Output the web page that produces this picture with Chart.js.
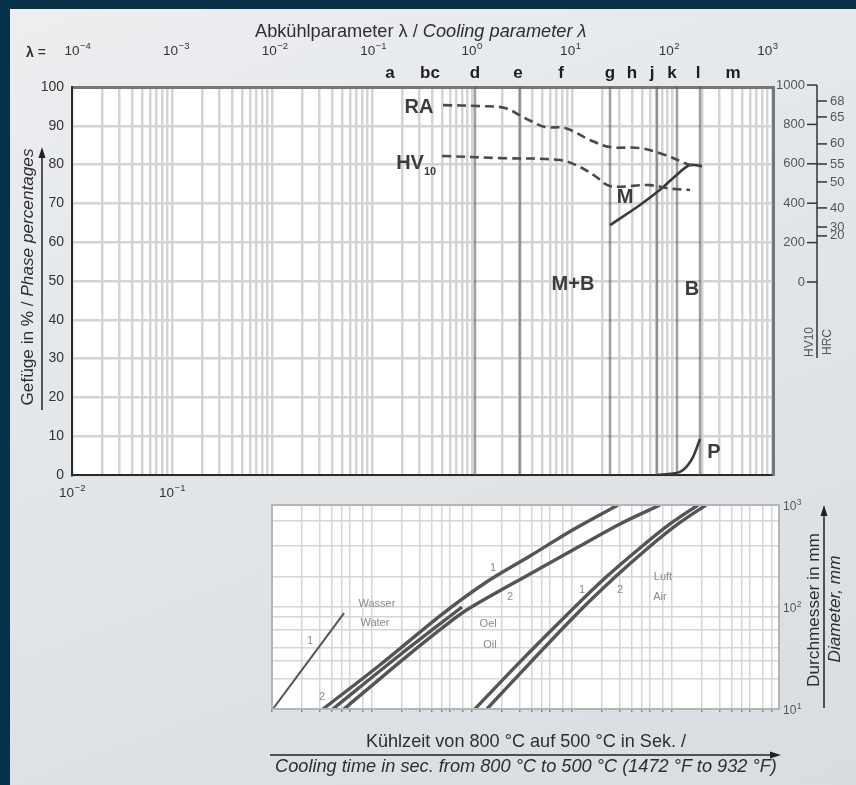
<!DOCTYPE html>
<html lang="de">
<head>
<meta charset="utf-8">
<title>Abkühlparameter</title>
<script src="https://cdn.jsdelivr.net/npm/chart.js@4.4.1/dist/chart.umd.min.js"></script>
<style>
  html,body{margin:0;padding:0}
  body{width:856px;height:785px;position:relative;overflow:hidden;background:#05314a;font-family:"Liberation Sans",Arial,Helvetica,sans-serif;color:#2e2e2e}
  #panel{position:absolute;left:10px;top:9px;width:846px;height:776px;background:linear-gradient(160deg,#eceef0 0%,#e3e6e9 45%,#d8dde1 100%)}
  canvas{position:absolute}
  .txt{position:absolute;white-space:nowrap;line-height:20px}
  .rot{position:absolute;white-space:nowrap;line-height:20px;transform:translate(-50%,-50%) rotate(-90deg)}
  svg{position:absolute;left:0;top:0}
</style>
</head>
<body>
<div id="panel"></div>
<canvas id="main" width="856" height="500" style="left:0;top:0"></canvas>
<canvas id="cool" width="594" height="230" style="left:262px;top:496px"></canvas>

<div class="txt" style="left:255px;top:21px;font-size:18.2px">Abkühlparameter λ / <i>Cooling parameter λ</i></div>
<div class="txt" style="left:26px;top:42px;font-size:14px"><b style="font-weight:600">λ</b> =</div>
<div class="rot" style="left:27px;top:277px;font-size:17.2px">Gefüge in % / <i>Phase percentages</i></div>
<div class="rot" style="left:809px;top:342px;font-size:12px;color:#555">HV10</div>
<div class="rot" style="left:827px;top:342px;font-size:12px;color:#555">HRC</div>
<div class="rot" style="left:813px;top:610px;font-size:17.2px">Durchmesser in mm</div>
<div class="rot" style="left:834px;top:609px;font-size:17.2px"><i>Diameter, mm</i></div>
<div class="txt" style="left:270px;top:731px;width:512px;text-align:center;font-size:18.1px">Kühlzeit von 800 °C auf 500 °C in Sek. /</div>
<div class="txt" style="left:270px;top:756px;width:512px;text-align:center;font-size:18.2px"><i>Cooling time in sec. from 800 °C to 500 °C (1472 °F to 932 °F)</i></div>

<svg width="856" height="785">
  <g stroke="#222" stroke-width="1.5" fill="#222">
    <line x1="42" y1="410" x2="42" y2="156"/><polygon points="42,147 38.5,158 45.5,158" stroke="none"/>
    <line x1="824" y1="708" x2="824" y2="514"/><polygon points="824,505 820.5,516 827.5,516" stroke="none"/>
    <line x1="270" y1="755" x2="772" y2="755"/><polygon points="781,755 770,751.5 770,758.5" stroke="none"/>
  </g>
</svg>

<script>
Chart.defaults.font.family = '"Liberation Sans", Arial, Helvetica, sans-serif';
Chart.defaults.color = '#333';

// ---- axes ----
const timeMin = 0.01, timeMax = 102300;       // cooling time in s, upper panel
const lambdaMin = 8.8e-5, lambdaMax = 1140;   // cooling parameter λ
const coolTimeMin = 1, coolTimeMax = 117500;  // lower panel, same px per decade
const timeLabelValues = [0.01, 0.1];
const timeLabelExps = ['−2', '−1'];
const lambdaValues = [1e-4, 1e-3, 1e-2, 1e-1, 1, 10, 100, 1000];
const lambdaExps = ['−4', '−3', '−2', '−1', '0', '1', '2', '3'];
const curveLetters = ['a', 'bc', 'd', 'e', 'f', 'g', 'h', 'j', 'k', 'l', 'm'];
const curveLetterTimes = [15.1, 38, 107, 288, 776, 2399, 3981, 6310, 10000, 18197, 40738];
const diaLabelValues = [10, 100, 1000];
const diaLabelExps = ['1', '2', '3'];
const diaGridValues = [20, 30, 40, 60, 80, 100, 200, 400, 700];

// darker vertical cooling lines (s)
const coolLineTimes = [107, 302, 2399, 7079, 11220, 19055];

// ---- hardness ruler (HV10 left, HRC right) ----
const hvTicks = [0, 200, 400, 600, 800, 1000];
const hrcLabels = ['68', '65', '60', '55', '50', '40', '30', '20'];
const hrcAtHV = [919, 838, 701, 599, 508, 376, 279, 234];

// ---- upper panel curves ----
const raTime = [51.3, 120, 214, 339, 537, 851, 1514, 2399, 4786, 8511, 15136, 19055];
const raHV   = [898, 893, 883, 832, 787, 782, 721, 685, 680, 645, 594, 589];
const hvTime = [50.1, 190.5, 759, 1202, 1698, 2399, 6026, 9550, 15136];
const hvVal  = [640, 629, 619, 584, 538, 487, 492, 474, 467];
const mTime  = [2399, 4786, 7586, 12023, 15136, 19953];
const mPct   = [64.4, 69.6, 73.5, 78.1, 79.9, 79.6];
const pTime  = [7079, 9550, 12023, 14125, 16218, 19055];
const pPct   = [0, 0.3, 0.8, 2.3, 4.6, 9.3];

const phaseLabels = ['RA', 'HV', 'M', 'M+B', 'B', 'P'];
const phaseSubs   = ['', '10', '', '', '', ''];
const phaseTimes  = [29.5, 24, 3388, 1023, 15849, 26303];
const phasePct    = [94.6, 80.2, 71.6, 49.0, 47.7, 5.7];

// ---- lower panel: diameter vs cooling time ----
const wasser1Time = [1.02, 5.25];
const wasser1Dia  = [10, 87];
const wasser2Time = [4.07, 19.1, 79.4];
const wasser2Dia  = [10, 34, 100];
const oel1Time = [3.24, 12.0, 47.9, 135, 380, 955, 2884];
const oel1Dia  = [10, 27, 82, 172, 316, 550, 1000];
const oel2Time = [5.25, 19.1, 47.9, 89.1, 380, 1202, 3020, 7586];
const oel2Dia  = [10, 29, 60, 94, 211, 396, 652, 1000];
const luft1Time = [107, 302, 891, 2138, 4786, 9550, 18197];
const luft1Dia  = [10, 29, 84, 192, 379, 652, 1000];
const luft2Time = [141, 389, 1096, 2630, 5754, 11482, 21878];
const luft2Dia  = [10, 29, 84, 192, 379, 652, 1000];

const mediumLabels = ['Wasser', 'Water', '1', '2', 'Oel', 'Oil', '1', '2', '1', '2', 'Luft', 'Air'];
const mediumTimes  = [11.2, 10.7, 2.4, 3.16, 145, 151, 162, 240, 1259, 3020, 8128, 7586];
const mediumDia    = [107, 69.7, 46.4, 13.1, 68, 42.4, 241, 125, 147, 147, 197, 125];

// helpers
const pts = (xs, ys) => xs.map((x, i) => ({x, y: ys[i]}));
function decadeGrid(lo, hi, mults){
  const out = [];
  const ms = mults || [1, 2, 3, 4, 5, 6, 7, 8, 9];
  for (let e = Math.floor(Math.log10(lo)); e <= Math.ceil(Math.log10(hi)); e++)
    ms.forEach(m => {
      const v = +(m * Math.pow(10, e)).toPrecision(6);
      if (v >= lo * 0.999 && v <= hi * 1.001) out.push(v);
    });
  return out;
}
const gridColor = '#d4d4d4';
const FONT = '"Liberation Sans", Arial, sans-serif';

const areaBg = {
  id: 'areaBg',
  beforeDraw(chart){
    const {ctx, chartArea: a} = chart;
    ctx.save(); ctx.fillStyle = '#fff'; ctx.fillRect(a.left, a.top, a.width, a.height); ctx.restore();
  }
};

function makeMarks(xId, yId, texts, xs, ys, font, color, subs){
  return {
    id: 'marks',
    afterDatasetsDraw(chart){
      const {ctx} = chart;
      const sx = chart.scales[xId], sy = chart.scales[yId];
      ctx.save();
      ctx.fillStyle = color; ctx.textBaseline = 'middle';
      texts.forEach((t, i) => {
        const px = sx.getPixelForValue(xs[i]), py = sy.getPixelForValue(ys[i]);
        ctx.font = font; ctx.textAlign = 'center';
        ctx.fillText(t, px, py);
        if (subs && subs[i]){
          const w = ctx.measureText(t).width;
          ctx.font = 'bold 11px ' + FONT; ctx.textAlign = 'left';
          ctx.fillText(subs[i], px + w / 2, py + 8);
        }
      });
      ctx.restore();
    }
  };
}

// "10" with a raised exponent at each given scale value
function makePowers(scaleId, values, exps, o){
  return {
    id: 'powers_' + scaleId,
    afterDraw(chart){
      const s = chart.scales[scaleId], {ctx} = chart;
      ctx.save(); ctx.fillStyle = o.color; ctx.textBaseline = 'alphabetic'; ctx.textAlign = 'left';
      values.forEach((v, i) => {
        const p = s.getPixelForValue(v);
        ctx.font = o.base; const wb = ctx.measureText('10').width;
        ctx.font = o.sup; const we = ctx.measureText(exps[i]).width;
        let x, y;
        if (s.isHorizontal()) { x = p - (wb + we) / 2; y = o.at; } else { x = o.at; y = p + o.shift; }
        ctx.font = o.base; ctx.fillText('10', x, y);
        ctx.font = o.sup; ctx.fillText(exps[i], x + wb + 0.5, y - o.rise);
      });
      ctx.restore();
    }
  };
}

const ruler = {
  id: 'ruler',
  afterDraw(chart){
    const {ctx} = chart;
    const s = chart.scales.hv;
    const x0 = chart.chartArea.right + 44;
    const seg = (x1, y1, x2, y2) => { ctx.beginPath(); ctx.moveTo(x1, y1); ctx.lineTo(x2, y2); ctx.stroke(); };
    ctx.save();
    ctx.strokeStyle = '#333'; ctx.lineWidth = 1.5;
    seg(x0, s.getPixelForValue(1000), x0, s.getPixelForValue(-386));
    ctx.font = '13px ' + FONT;
    ctx.fillStyle = '#555'; ctx.textBaseline = 'middle';
    hvTicks.forEach(v => {
      const y = s.getPixelForValue(v);
      seg(x0 - 10, y, x0, y);
      ctx.textAlign = 'right'; ctx.fillText(String(v), x0 - 12, y);
    });
    hrcAtHV.forEach((v, i) => {
      const y = s.getPixelForValue(v);
      seg(x0, y, x0 + 10, y);
      ctx.textAlign = 'left'; ctx.fillText(hrcLabels[i], x0 + 13, y);
    });
    ctx.restore();
  }
};

// ---- upper chart ----
const mainSets = [
  {data: pts(raTime, raHV), yAxisID: 'hv', borderColor: '#4a4a4a', borderWidth: 2.6, borderDash: [9, 5], tension: 0.35},
  {data: pts(hvTime, hvVal), yAxisID: 'hv', borderColor: '#4a4a4a', borderWidth: 2.6, borderDash: [9, 5], tension: 0.35},
  {data: pts(mTime, mPct), yAxisID: 'y', borderColor: '#3a3a3a', borderWidth: 2.6, tension: 0.3},
  {data: pts(pTime, pPct), yAxisID: 'y', borderColor: '#3a3a3a', borderWidth: 2.6, tension: 0.4}
].concat(coolLineTimes.map(t => ({
  data: [{x: t, y: 0}, {x: t, y: 100}], yAxisID: 'y', borderColor: 'rgba(80,80,80,0.55)', borderWidth: 2.5, order: 2
})));
mainSets.forEach(d => { d.xAxisID = 'x'; d.pointRadius = 0; d.fill = false; });

new Chart(document.getElementById('main'), {
  type: 'line',
  data: {datasets: mainSets},
  options: {
    responsive: false, animation: false, events: [],
    layout: {padding: 0},
    plugins: {legend: {display: false}, tooltip: {enabled: false}},
    scales: {
      x: {
        type: 'logarithmic', position: 'bottom', min: timeMin, max: timeMax,
        afterBuildTicks: s => { s.ticks = decadeGrid(timeMin, timeMax).map(v => ({value: v})); },
        afterFit: s => { s.height = 25; },
        grid: {color: gridColor, lineWidth: 2.5, drawTicks: false},
        border: {color: '#2a2a2a', width: 2},
        ticks: {display: false}
      },
      xLetters: {
        type: 'logarithmic', position: 'top', weight: 1, min: timeMin, max: timeMax,
        afterBuildTicks: s => { s.ticks = curveLetterTimes.map(v => ({value: v})); },
        afterFit: s => { s.height = 26; },
        grid: {display: false, drawTicks: false},
        border: {display: true, color: '#777', width: 3},
        ticks: {autoSkip: false, maxRotation: 0, padding: 3, color: '#1e1e1e', font: {size: 17, weight: 'bold'},
                callback: (v, i) => curveLetters[i]}
      },
      xLambda: {
        type: 'logarithmic', position: 'top', weight: 2, min: lambdaMin, max: lambdaMax,
        afterBuildTicks: s => { s.ticks = lambdaValues.map(v => ({value: v})); },
        afterFit: s => { s.height = 61; },
        grid: {display: false, drawTicks: false},
        border: {display: false},
        ticks: {display: false}
      },
      y: {
        position: 'left', min: 0, max: 100,
        afterFit: s => { s.width = 72; },
        grid: {color: gridColor, lineWidth: 2.5, drawTicks: false},
        border: {color: '#2a2a2a', width: 2},
        ticks: {stepSize: 10, padding: 8, color: '#333', font: {size: 14}}
      },
      hv: {
        position: 'right', min: -980, max: 990,
        afterFit: s => { s.width = 83; },
        grid: {display: false, drawTicks: false},
        border: {display: true, color: '#777', width: 3},
        ticks: {display: false}
      }
    }
  },
  plugins: [areaBg, ruler,
    makeMarks('x', 'y', phaseLabels, phaseTimes, phasePct, 'bold 20px ' + FONT, '#3c3c3c', phaseSubs),
    makePowers('xLambda', lambdaValues, lambdaExps, {base: '13.5px ' + FONT, sup: '9.5px ' + FONT, color: '#333', at: 55, rise: 6}),
    makePowers('x', timeLabelValues, timeLabelExps, {base: '13.5px ' + FONT, sup: '9.5px ' + FONT, color: '#333', at: 497, rise: 6})]
});

// ---- lower chart ----
const lowerCurves = [
  [wasser1Time, wasser1Dia, false],
  [wasser2Time, wasser2Dia, true],
  [oel1Time, oel1Dia, true],
  [oel2Time, oel2Dia, true],
  [luft1Time, luft1Dia, true],
  [luft2Time, luft2Dia, true]
];
const coolSets = [];
lowerCurves.forEach(([t, d, dbl]) => {
  coolSets.push({data: pts(t, d), borderColor: '#555', borderWidth: dbl ? 3.4 : 2, tension: 0.3, pointRadius: 0});
  if (dbl) coolSets.push({data: pts(t, d), borderColor: '#d0d0d0', borderWidth: 1, tension: 0.3, pointRadius: 0});
});

const frame = {
  id: 'frame',
  afterDraw(chart){
    const {ctx, chartArea: a} = chart;
    ctx.save(); ctx.strokeStyle = '#b4b4b4'; ctx.lineWidth = 2;
    ctx.strokeRect(a.left, a.top, a.width, a.height); ctx.restore();
  }
};

new Chart(document.getElementById('cool'), {
  type: 'line',
  data: {datasets: coolSets},
  options: {
    responsive: false, animation: false, events: [],
    layout: {padding: {left: 10, top: 9, right: 0, bottom: 0}},
    plugins: {legend: {display: false}, tooltip: {enabled: false}},
    scales: {
      x: {
        type: 'logarithmic', position: 'bottom', min: coolTimeMin, max: coolTimeMax,
        afterBuildTicks: s => { s.ticks = decadeGrid(coolTimeMin, coolTimeMax, [1, 2, 3, 4, 5, 6, 8]).map(v => ({value: v})); },
        afterFit: s => { s.height = 17; },
        grid: {color: '#d6d6d6', lineWidth: 1.5, drawTicks: true, tickLength: 3, tickColor: '#888'},
        border: {color: '#999', width: 2},
        ticks: {display: false}
      },
      y: {
        type: 'logarithmic', position: 'right', min: 10, max: 1000,
        afterBuildTicks: s => { s.ticks = diaGridValues.map(v => ({value: v})); },
        afterFit: s => { s.width = 77; },
        grid: {color: '#d6d6d6', lineWidth: 1.5, drawTicks: false},
        border: {display: false},
        ticks: {display: false}
      }
    }
  },
  plugins: [areaBg, frame,
    makeMarks('x', 'y', mediumLabels, mediumTimes, mediumDia, '11px ' + FONT, '#8a8a8a'),
    makePowers('y', diaLabelValues, diaLabelExps, {base: '12px ' + FONT, sup: '8.5px ' + FONT, color: '#555', at: 521, shift: 4.5, rise: 5})]
});
</script>
</body>
</html>
